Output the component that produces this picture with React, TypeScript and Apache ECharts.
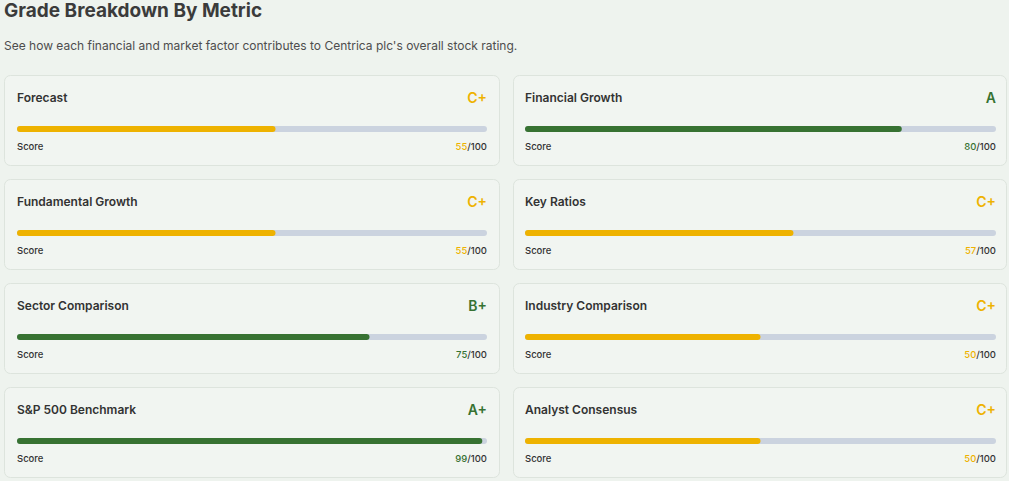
import React, { useEffect, useRef } from "react";
import * as echarts from "echarts";

const metrics = [
  "Forecast",
  "Financial Growth",
  "Fundamental Growth",
  "Key Ratios",
  "Sector Comparison",
  "Industry Comparison",
  "S&P 500 Benchmark",
  "Analyst Consensus",
];
const scores = [55, 80, 55, 57, 75, 50, 99, 50];
const grades = ["C+", "A", "C+", "C+", "B+", "C+", "A+", "C+"];
const maxScore = 100;

const GREEN = "#377232";
const YELLOW = "#eeb200";
const TRACK = "#cbd3df";
const FONT = "Inter, 'Noto Sans', sans-serif";

const colorFor = (g: string) => (g.startsWith("A") || g.startsWith("B") ? GREEN : YELLOW);

export default function App() {
  const ref = useRef<HTMLDivElement>(null);
  useEffect(() => {
    if (!ref.current) return;
    const chart = echarts.init(ref.current, undefined, { renderer: "svg" });
    const grids: any[] = [];
    const xAxes: any[] = [];
    const yAxes: any[] = [];
    const series: any[] = [];
    const graphics: any[] = [
      {
        type: "text",
        left: 4,
        top: 1,
        style: { text: "Grade Breakdown By Metric", font: `bold 19px ${FONT}`, fill: "#3b3b3b" },
      },
      {
        type: "text",
        left: 4,
        top: 39,
        style: {
          text: "See how each financial and market factor contributes to Centrica plc's overall stock rating.",
          font: `12px ${FONT}`,
          fill: "#4d4d4d",
        },
      },
    ];
    metrics.forEach((m, i) => {
      const col = i % 2;
      const row = Math.floor(i / 2);
      const cardX = col ? 513 : 4;
      const cardW = col ? 494 : 496;
      const cardY = 75 + row * 104;
      const innerL = col ? 525 : 17;
      const innerR = col ? 996 : 487;
      const c = colorFor(grades[i]);
      grids.push({ left: innerL, top: cardY + 51, width: innerR - innerL, height: 6 });
      xAxes.push({ gridIndex: i, type: "value", min: 0, max: maxScore, show: false });
      yAxes.push({ gridIndex: i, type: "category", data: [m], show: false });
      series.push({
        type: "bar",
        xAxisIndex: i,
        yAxisIndex: i,
        data: [scores[i]],
        barWidth: 6,
        showBackground: true,
        backgroundStyle: { color: TRACK, borderRadius: 3 },
        itemStyle: { color: c, borderRadius: 3 },
        silent: true,
      });
      graphics.push({
        type: "rect",
        z: -1,
        shape: { x: cardX + 0.5, y: cardY + 0.5, width: cardW - 1, height: 90, r: 6 },
        style: { fill: "#f1f5f1", stroke: "#dde4dd", lineWidth: 1 },
      });
      graphics.push({
        type: "text",
        x: innerL,
        y: cardY + 22,
        style: { text: m, font: `600 12px ${FONT}`, fill: "#333333", verticalAlign: "middle" },
      });
      graphics.push({
        type: "text",
        x: innerR,
        y: cardY + 22,
        style: { text: grades[i], font: `600 14px ${FONT}`, fill: c, align: "right", verticalAlign: "middle" },
      });
      graphics.push({
        type: "text",
        x: innerL,
        y: cardY + 71,
        style: { text: "Score", font: `500 9.5px ${FONT}`, fill: "#333333", verticalAlign: "middle" },
      });
      graphics.push({
        type: "text",
        x: innerR,
        y: cardY + 71,
        style: {
          text: `{v|${scores[i]}}{s|/${maxScore}}`,
          align: "right",
          verticalAlign: "middle",
          rich: {
            v: { font: `500 9.5px ${FONT}`, fill: c, color: c },
            s: { font: `500 9.5px ${FONT}`, fill: "#333333", color: "#333333" },
          },
        },
      });
    });
    chart.setOption({
      animation: false,
      backgroundColor: "#eef3ee",
      grid: grids,
      xAxis: xAxes,
      yAxis: yAxes,
      series,
      graphic: graphics,
    });
    return () => chart.dispose();
  }, []);
  return (
    <div
      ref={ref}
      style={{ position: "fixed", left: 0, top: 0, width: 1009, height: 481 }}
    />
  );
}
